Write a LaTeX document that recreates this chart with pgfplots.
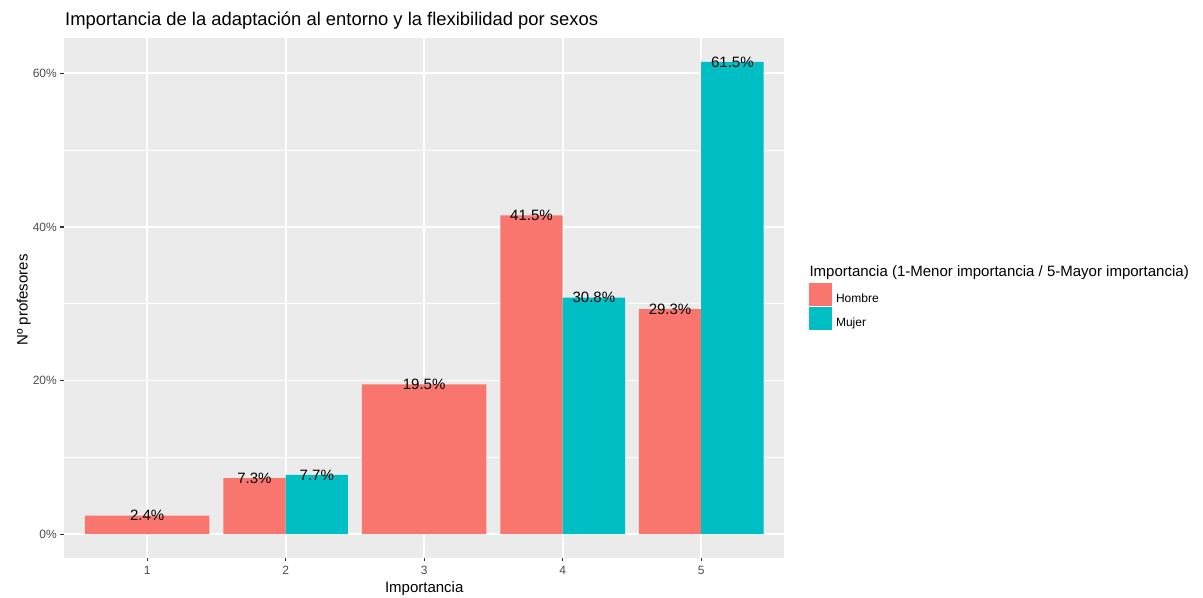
\documentclass[border=0pt]{standalone}
\usepackage{pgfplots}
\pgfplotsset{compat=1.18}
\usepackage{fontspec}
\setmainfont{Liberation Sans}
\definecolor{hom}{HTML}{F8766D}
\definecolor{muj}{HTML}{00BFC4}
\definecolor{panel}{HTML}{EBEBEB}
\definecolor{gthirty}{HTML}{4D4D4D}
\definecolor{gtwenty}{HTML}{333333}
\begin{document}
\begin{tikzpicture}[x=1bp,y=1bp]
\useasboundingbox (0,0) rectangle (1203,598);
\begin{axis}[
  at={(64bp,40.3bp)}, anchor=south west,
  scale only axis, width=720.3bp, height=519.4bp,
  xmin=0.4, xmax=5.6, ymin=-3.075, ymax=64.575,
  axis background/.style={fill=panel},
  axis line style={draw=none},
  xtick={1,2,3,4,5}, xticklabels={1,2,3,4,5},
  ytick={0,20,40,60}, yticklabels={0\%,20\%,40\%,60\%},
  minor ytick={10,30,50},
  xmajorgrids, ymajorgrids, yminorgrids,
  major grid style={white, line width=1.9bp},
  minor grid style={white, line width=0.95bp},
  tick align=outside, major tick length=3.67bp, minor tick length=0pt,
  tick style={gtwenty, line width=1.1bp},
  xtick pos=bottom, ytick pos=left,
  ticklabel style={font=\fontsize{12bp}{14bp}\selectfont, text=gthirty},
  xticklabel style={yshift=-1bp},
  /pgf/number format/assume math mode=true,
  nodes near coords={\pgfmathprintnumber[fixed,fixed zerofill,precision=1]{\pgfplotspointmeta}\%},
  every node near coord/.append style={anchor=center, font=\fontsize{15bp}{17bp}\selectfont, text=black},
  clip=false,
  legend style={at={(rel axis cs:1.0347,0.5283)}, anchor=north west, draw=none, fill=none,
    inner sep=0pt, outer sep=0pt, row sep=1.6bp,
    font=\fontsize{12bp}{14bp}\selectfont,
    nodes={inner sep=0pt, outer sep=0pt}},
  legend cell align=left,
  legend image code/.code={\fill[#1] (0bp,-7bp) rectangle (22.4bp,15.4bp); \path (26.7bp,0bp);},
]
\addplot[ybar, bar width=0.9, bar shift=0, fill=hom, draw=none, forget plot] coordinates {(1,2.4) (3,19.5)};
\addplot[ybar, bar width=0.45, bar shift=-0.225, fill=hom, draw=none,
  every node near coord/.append style={xshift=-31.17bp}] coordinates {(2,7.3) (4,41.5) (5,29.3)};
\addlegendentry{Hombre}
\addplot[ybar, bar width=0.45, bar shift=0.225, fill=muj, draw=none,
  every node near coord/.append style={xshift=31.17bp}] coordinates {(2,7.7) (4,30.8) (5,61.5)};
\addlegendentry{Mujer}
\end{axis}
\node[anchor=base west, inner sep=0pt, font=\fontsize{18.4bp}{21bp}\selectfont] at (65,572.7) {Importancia de la adaptación al entorno y la flexibilidad por sexos};
\node[anchor=base, inner sep=0pt, font=\fontsize{15bp}{17bp}\selectfont] at (424.2,5.8) {Importancia};
\node[anchor=base, rotate=90, inner sep=0pt, font=\fontsize{15bp}{17bp}\selectfont] at (27.5,298) {Nº profesores};
\node[anchor=base west, inner sep=0pt, font=\fontsize{15bp}{17bp}\selectfont] at (809.3,321.5) {Importancia (1-Menor importancia / 5-Mayor importancia)};
\end{tikzpicture}
\end{document}
